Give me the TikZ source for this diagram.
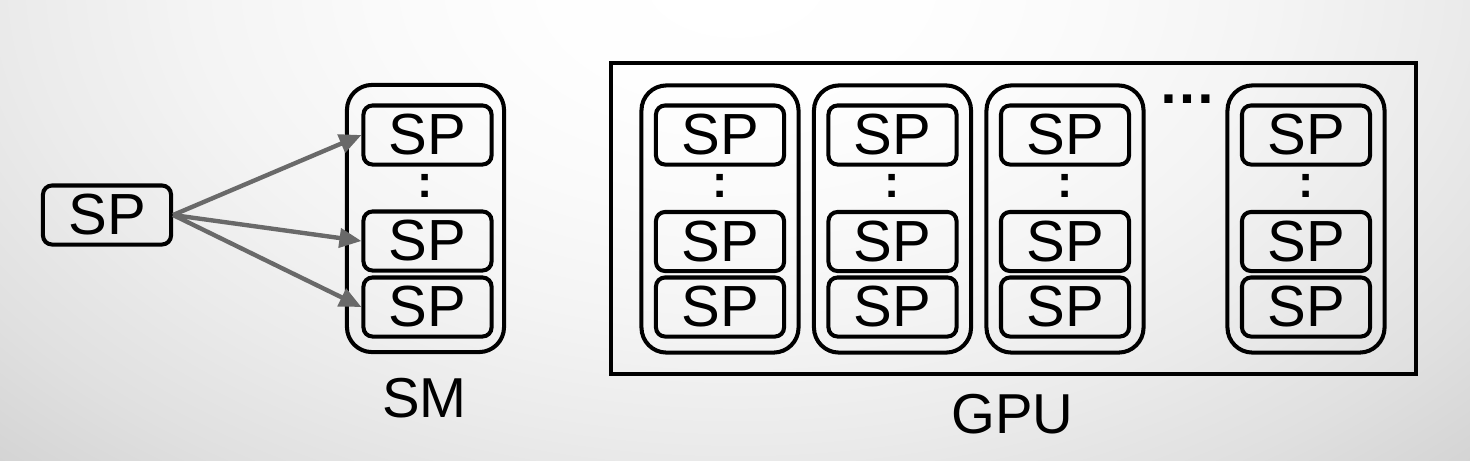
\documentclass[tikz,border=0pt]{standalone}
\usepackage{fontspec}
\setmainfont{Liberation Sans}
\usetikzlibrary{arrows.meta}
\definecolor{bgA}{RGB}{254,254,254}
\definecolor{bgB}{RGB}{250,250,250}
\definecolor{bgC}{RGB}{244,244,244}
\definecolor{bgD}{RGB}{235,235,235}
\definecolor{bgE}{RGB}{224,224,224}
\definecolor{bgF}{RGB}{210,210,210}
\definecolor{bgG}{RGB}{194,194,194}
\definecolor{bgH}{RGB}{175,175,175}
\definecolor{arrgray}{RGB}{105,105,105}
\pgfdeclareradialshading{bgshade}{\pgfpoint{0bp}{0bp}}{color(0bp)=(white); color(3.125bp)=(bgA); color(6.25bp)=(bgB); color(9.375bp)=(bgC); color(12.5bp)=(bgD); color(15.625bp)=(bgE); color(18.75bp)=(bgF); color(21.875bp)=(bgG); color(25bp)=(bgH); color(50bp)=(bgH)}
\newcommand\spfont{\fontsize{16.5}{19}\selectfont}
\newcommand\lblfont{\fontsize{16}{19}\selectfont}
\tikzset{
  spbox/.style={draw, line width=1.15pt, rounded corners=0.09cm, minimum width=1.28cm, minimum height=0.59cm, inner sep=0pt, font=\spfont},
  smbox/.style={draw, line width=1.15pt, rounded corners=0.25cm, minimum width=1.57cm, minimum height=2.67cm, inner sep=0pt},
  gpubox/.style={draw, line width=1.2pt, minimum width=8.05cm, minimum height=3.11cm, inner sep=0pt},
  vdots/.style={font=\fontsize{13}{14}\selectfont\bfseries, inner sep=0pt},
  hdots/.style={font=\spfont\bfseries, inner sep=0pt, anchor=base},
  lbl/.style={font=\lblfont, inner sep=0pt, anchor=base},
  arr/.style={draw=arrgray, line width=1.25pt, -{Triangle[length=0.22cm, width=0.19cm]}}
}
\begin{document}
\begin{tikzpicture}[x=0.01cm, y=-0.01cm]
\useasboundingbox (0,0) rectangle (1470,460);
\begin{scope}
\clip (0,0) rectangle (1470,460);
\shade[shading=bgshade] (735,-20) ellipse [x radius=1440, y radius=920];
\end{scope}

% left single SP
\node[spbox] (sp0) at (107,215) {SP};

% left SM
\node[smbox] (smL) at (425.5,218.5) {};
\node[spbox] (smL1) at (427.5,135) {SP};
\node[vdots] (smLd) at (425.5,186) {:};
\node[spbox] (smL2) at (427.5,241) {SP};
\node[spbox] (smL3) at (427.5,307) {SP};
\node[lbl] (smlabel) at (424.5,417) {SM};

\draw[arr] (sp0.east) -- (smL1.west);
\draw[arr] (sp0.east) -- (smL2.west);
\draw[arr] (sp0.east) -- (smL3.west);

% GPU
\node[gpubox] (gpu) at (1013.5,218.5) {};
\foreach \i/\x in {1/720, 2/892.5, 3/1065, 4/1306} {
  \node[smbox] (sm\i) at (\x,219) {};
  \node[spbox] (sm\i a) at (\x,135) {SP};
  \node[vdots] (sm\i d) at (\x,186) {:};
  \node[spbox] (sm\i b) at (\x,241.5) {SP};
  \node[spbox] (sm\i c) at (\x,307) {SP};
}
\node[hdots] (ell) at (1187,103) {…};
\node[lbl] (gpulabel) at (1012.5,433) {GPU};
\end{tikzpicture}
\end{document}
